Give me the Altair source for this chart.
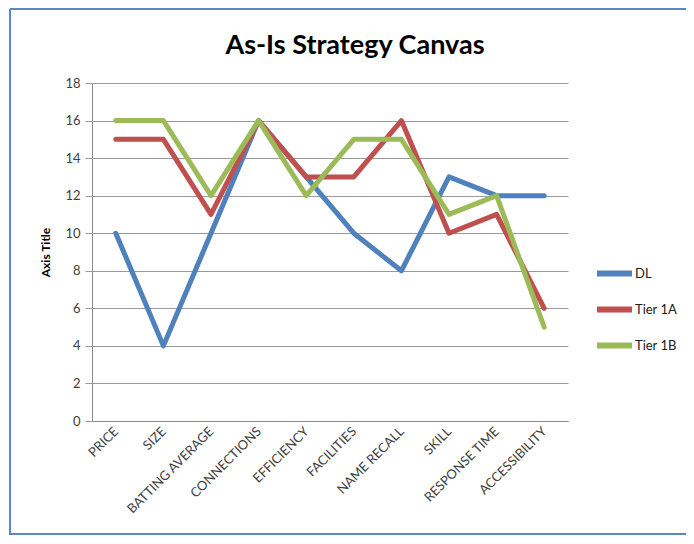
import altair as alt
import pandas as pd

categories = ["PRICE", "SIZE", "BATTING AVERAGE", "CONNECTIONS", "EFFICIENCY",
              "FACILITIES", "NAME RECALL", "SKILL", "RESPONSE TIME", "ACCESSIBILITY"]
series_names = ["DL", "Tier 1A", "Tier 1B"]
dl = [10, 4, 10, 16, 13, 10, 8, 13, 12, 12]
tier_1a = [15, 15, 11, 16, 13, 13, 16, 10, 11, 6]
tier_1b = [16, 16, 12, 16, 12, 15, 15, 11, 12, 5]
y_ticks = [0, 2, 4, 6, 8, 10, 12, 14, 16, 18]
colors = ["#4F81BD", "#C0504D", "#9BBB59"]
title_text = "As-Is Strategy Canvas"

rows = []
for name, vals in zip(series_names, [dl, tier_1a, tier_1b]):
    for i, (c, v) in enumerate(zip(categories, vals)):
        rows.append({"category": c, "value": v, "series": name, "order": i})
df = pd.DataFrame(rows)

FONT = "Lato"
W, H = 476, 338

lines = alt.Chart(df).mark_line(strokeWidth=5, strokeCap="round", strokeJoin="round").encode(
    x=alt.X("category:N", sort=categories,
            scale=alt.Scale(type="point", padding=0.5),
            axis=alt.Axis(title=None, labelAngle=315, labelAlign="right",
                          labelBaseline="middle", labelPadding=8, ticks=False, grid=False,
                          domainColor="#8C8C8C", domainWidth=1,
                          labelFont=FONT, labelFontSize=13, labelColor="#404040")),
    y=alt.Y("value:Q", scale=alt.Scale(domain=[0, 18], nice=False),
            axis=alt.Axis(title="Axis Title", values=y_ticks, grid=True,
                          gridColor="#9A9A9A", gridWidth=1, tickColor="#9A9A9A",
                          tickSize=7, domainColor="#8C8C8C", labelPadding=5,
                          labelFont=FONT, labelFontSize=13, labelColor="#404040",
                          titleFont=FONT, titleFontSize=12, titleFontWeight="bold",
                          titleColor="#000000", titlePadding=12)),
    color=alt.Color("series:N", sort=series_names,
                    scale=alt.Scale(domain=series_names, range=colors),
                    legend=alt.Legend(title=None, orient="none", legendX=502, legendY=170,
                                      symbolType="stroke", symbolSize=1225,
                                      symbolStrokeWidth=6, rowPadding=3,
                                      labelFont=FONT, labelFontSize=13,
                                      labelColor="#202020", labelOffset=0)),
    order="order:Q",
)

title = alt.Chart(pd.DataFrame({"t": [title_text]})).mark_text(
    font=FONT, fontSize=27, fontWeight="bold", color="#000000",
    align="center", baseline="alphabetic").encode(
    text="t:N", x=alt.value(263), y=alt.value(-29))

frame_color = "#5A87C5"
one = pd.DataFrame({"k": [0]})
left_edge = alt.Chart(one).mark_rule(color=frame_color, strokeWidth=2).encode(
    x=alt.value(-82), y=alt.value(-74), y2=alt.value(452))
top_edge = alt.Chart(one).mark_rule(color=frame_color, strokeWidth=2).encode(
    x=alt.value(-82), x2=alt.value(620), y=alt.value(-74))
bottom_edge = alt.Chart(one).mark_rule(color=frame_color, strokeWidth=2).encode(
    x=alt.value(-82), x2=alt.value(620), y=alt.value(451))

chart = alt.layer(lines, title, left_edge, top_edge, bottom_edge).properties(
    width=W, height=H,
    autosize=alt.AutoSizeParams(type="none"),
    padding={"left": 84, "top": 75, "right": 118, "bottom": 115},
    background="white",
).configure_view(stroke=None)

chart.save("out.html", embed_options={"renderer": "svg", "actions": False})
